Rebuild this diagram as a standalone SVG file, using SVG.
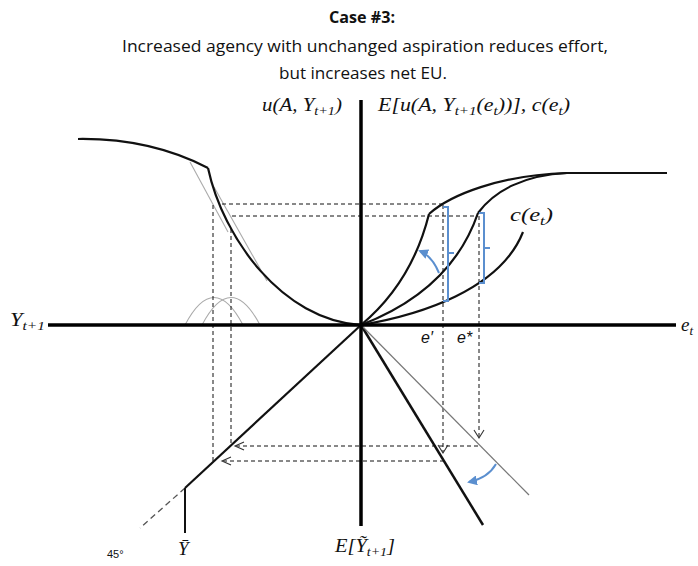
<svg xmlns="http://www.w3.org/2000/svg" width="698" height="566" viewBox="0 0 698 566">
<style>
.title{font-family:"Open Sans","Liberation Sans",sans-serif;fill:#111;text-anchor:middle}
.m{font-family:"Liberation Serif",serif;font-style:italic;fill:#111}
.s{font-family:"Liberation Sans",sans-serif;fill:#111}
.axis{stroke:#000;stroke-width:3.5;fill:none}
.curve{stroke:#111;stroke-width:2.2;fill:none}
.gray{stroke:#aaa;stroke-width:1.1;fill:none}
.dash{stroke:#111;stroke-width:1;stroke-dasharray:4 3;fill:none}
.blue{stroke:#5b8fcf;stroke-width:2;fill:none}
.chev{stroke:#333;stroke-width:1.1;fill:none}
</style>
<defs>
<marker id="bh" viewBox="0 0 10 10" refX="8" refY="5" markerWidth="5" markerHeight="5" orient="auto">
<path d="M0,0 L10,5 L0,10 z" fill="#5b8fcf"/>
</marker>
</defs>
<rect width="698" height="566" fill="#fff"/>

<g id="title">
<text class="title" x="362" y="23" font-size="16" font-weight="bold" textLength="66" lengthAdjust="spacingAndGlyphs">Case #3:</text>
<text class="title" x="365" y="52" font-size="16" textLength="486" lengthAdjust="spacingAndGlyphs">Increased agency with unchanged aspiration reduces effort,</text>
<text class="title" x="363" y="79" font-size="16" textLength="168" lengthAdjust="spacingAndGlyphs">but increases net EU.</text>
</g>

<g id="connectors">
<path class="gray" d="M185,325 Q214,270 243,325"/>
<path class="gray" d="M202,325 Q231,270 260,325"/>
<path class="gray" d="M190,162 L228,232"/>
<path class="gray" d="M214,187 L267,281"/>
<path class="dash" d="M222,204 L443,204"/>
<path class="dash" d="M232,216 L478,216"/>
<path class="dash" d="M213,205 L213,461"/>
<path class="dash" d="M231,229 L231,446"/>
<path class="dash" d="M443,205 L443,452"/>
<path class="dash" d="M479,216 L479,437"/>
<path class="dash" d="M236,446 L480,446"/>
<path class="dash" d="M223,461 L443,461"/>
<path class="chev" d="M438,445 L443,453 L448,445"/>
<path class="chev" d="M474,430 L479,438 L484,430"/>
<path class="chev" d="M244,442 L235,446 L244,450"/>
<path class="chev" d="M231,457 L222,461 L231,465"/>
<path class="curve" d="M361,325 L185,488"/>
<path d="M185,488 L140,528" stroke="#555" stroke-width="1.3" stroke-dasharray="6 4" fill="none"/>
<path d="M185,488 L185,533" stroke="#111" stroke-width="2" fill="none"/>
<path d="M361,325 L483,525" stroke="#111" stroke-width="2.5" fill="none"/>
<path d="M361,325 L529,495" stroke="#777" stroke-width="1.2" fill="none"/>
<path class="blue" d="M496,464 Q488,478 469,482" marker-end="url(#bh)" stroke-width="1.5"/>
<path class="blue" d="M439,273 Q432,256 420,251" marker-end="url(#bh)" stroke-width="1.5"/>
</g>

<g id="u-curve">
<path class="curve" d="M78,139 Q150,138 208,168"/>
<path class="curve" d="M208,168 C223,238 282,320 361,325"/>
</g>

<g id="eu-curves">
<path class="curve" d="M361,325 C385,305 415,270 429,214"/>
<path class="curve" d="M429,214 C450,195 500,175 567,173"/>
<path class="curve" d="M361,325 C400,310 455,280 478,213"/>
<path class="curve" d="M478,213 C495,190 525,175 567,173"/>
<path class="curve" d="M567,173 L667,173"/>
</g>

<g id="cost-curve">
<path class="curve" d="M361,325 C420,315 500,290 523,232"/>
</g>

<g id="brackets">
<path class="blue" d="M443,207 L448,207 L448,301 L443,301 M448,253 L454,253"/>
<path class="blue" d="M479,213 L484,213 L484,283 L479,283 M484,248 L490,248"/>
</g>

<g id="axes">
<path class="axis" d="M48,325 L676,325"/>
<path class="axis" d="M361,100 L361,526"/>
</g>

<g id="labels">
<text class="m" x="262" y="111" font-size="19" textLength="80" lengthAdjust="spacingAndGlyphs">u(A, Y<tspan font-size="13" dy="4">t+1</tspan><tspan dy="-4">)</tspan></text>
<text class="m" x="378" y="111" font-size="19" textLength="192" lengthAdjust="spacingAndGlyphs">E[u(A, Y<tspan font-size="13" dy="4">t+1</tspan><tspan dy="-4">(e</tspan><tspan font-size="13" dy="4">t</tspan><tspan dy="-4">))], c(e</tspan><tspan font-size="13" dy="4">t</tspan><tspan dy="-4">)</tspan></text>
<text class="m" x="510" y="221" font-size="19" textLength="43" lengthAdjust="spacingAndGlyphs">c(e<tspan font-size="13" dy="4">t</tspan><tspan dy="-4">)</tspan></text>
<text class="m" x="10" y="326" font-size="19" textLength="35" lengthAdjust="spacingAndGlyphs">Y<tspan font-size="13" dy="4">t+1</tspan></text>
<text class="m" x="681" y="331" font-size="19">e<tspan font-size="13" dy="4">t</tspan></text>
<text class="s" x="421" y="343" font-size="16" font-style="italic" fill="#333">e′</text>
<text class="s" x="457" y="343" font-size="16" font-style="italic" fill="#333">e*</text>
<text class="m" x="178" y="555" font-size="19">Ȳ</text>
<text class="m" x="335" y="552" font-size="19" textLength="60" lengthAdjust="spacingAndGlyphs">E[Ỹ<tspan font-size="13" dy="4">t+1</tspan><tspan dy="-4">]</tspan></text>
<text class="s" x="107" y="558" font-size="11">45°</text>
</g>
</svg>
